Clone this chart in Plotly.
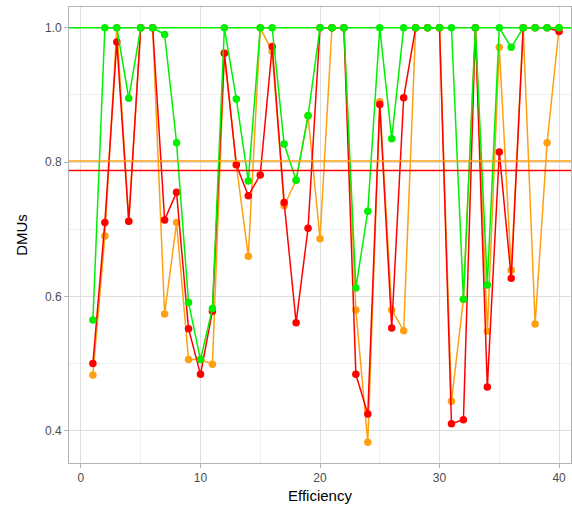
import plotly.graph_objects as go

dmu = list(range(1, 41))

green_vals = [0.565, 1.0, 1.0, 0.895, 1.0, 1.0, 0.99, 0.829, 0.591, 0.506,
              0.582, 1.0, 0.894, 0.772, 1.0, 1.0, 0.827, 0.773, 0.869, 1.0,
              1.0, 1.0, 0.6125, 0.727, 1.0, 0.835, 1.0, 1.0, 1.0, 1.0,
              1.0, 0.596, 1.0, 0.617, 1.0, 0.971, 1.0, 1.0, 1.0, 1.0]

red_vals = [0.50, 0.71, 0.979, 0.712, 1.0, 1.0, 0.714, 0.755, 0.552, 0.484,
            0.578, 0.962, 0.796, 0.75, 0.781, 0.972, 0.74, 0.561, 0.7015, 1.0,
            1.0, 1.0, 0.484, 0.425, 0.886, 0.553, 0.896, 1.0, 1.0, 1.0,
            0.4105, 0.4165, 1.0, 0.465, 0.815, 0.627, 1.0, 1.0, 1.0, 0.9945]

orange_vals = [0.483, 0.69, 1.0, 0.712, 1.0, 1.0, 0.574, 0.71, 0.506, 0.506,
               0.499, 0.962, 0.796, 0.66, 1.0, 0.965, 0.735, 0.773, 0.869, 0.686,
               1.0, 1.0, 0.58, 0.383, 0.89, 0.58, 0.549, 1.0, 1.0, 1.0,
               0.444, 0.596, 1.0, 0.548, 0.971, 0.639, 1.0, 0.559, 0.829, 1.0]

hline_vals = {"green": 1.0, "orange": 0.8016, "red": 0.7877}

GREEN = "#00F000"
RED = "#FF0000"
ORANGE = "#FFA010"

fig = go.Figure()
for vals, col in [(orange_vals, ORANGE), (red_vals, RED), (green_vals, GREEN)]:
    fig.add_trace(go.Scatter(x=dmu, y=vals, mode="lines+markers",
                             line=dict(color=col, width=1.5),
                             marker=dict(color=col, size=7.5),
                             showlegend=False, hoverinfo="x+y"))

for name, col in [("green", GREEN), ("orange", ORANGE), ("red", RED)]:
    fig.add_hline(y=hline_vals[name], line=dict(color=col, width=1.5))

axis_common = dict(
    showline=True, linecolor="#B3B3B3", linewidth=1, mirror=True,
    ticks="outside", tickcolor="#B3B3B3", ticklen=4, tickwidth=1,
    tickfont=dict(family="Liberation Sans, Arial", size=12, color="#4D4D4D"),
    gridcolor="#DEDEDE", gridwidth=1, zeroline=False,
    minor=dict(showgrid=True, gridcolor="#EFEFEF", gridwidth=1),
)

fig.update_xaxes(range=[-1.0, 41.0], tickvals=[0, 10, 20, 30, 40],
                 minor_tickvals=[5, 15, 25, 35],
                 title=dict(text="Efficiency", standoff=6,
                            font=dict(family="Liberation Sans, Arial", size=15, color="black")),
                 **axis_common)
fig.update_yaxes(range=[0.352, 1.031], tickvals=[0.4, 0.6, 0.8, 1.0],
                 ticktext=["0.4", "0.6", "0.8", "1.0"],
                 minor_tickvals=[0.5, 0.7, 0.9],
                 title=dict(text="DMUs", standoff=13,
                            font=dict(family="Liberation Sans, Arial", size=15, color="black")),
                 **axis_common)

fig.update_layout(
    width=572, height=507,
    margin=dict(l=69, r=1, t=7, b=44),
    plot_bgcolor="white", paper_bgcolor="white",
)

fig.write_html("out.html")
